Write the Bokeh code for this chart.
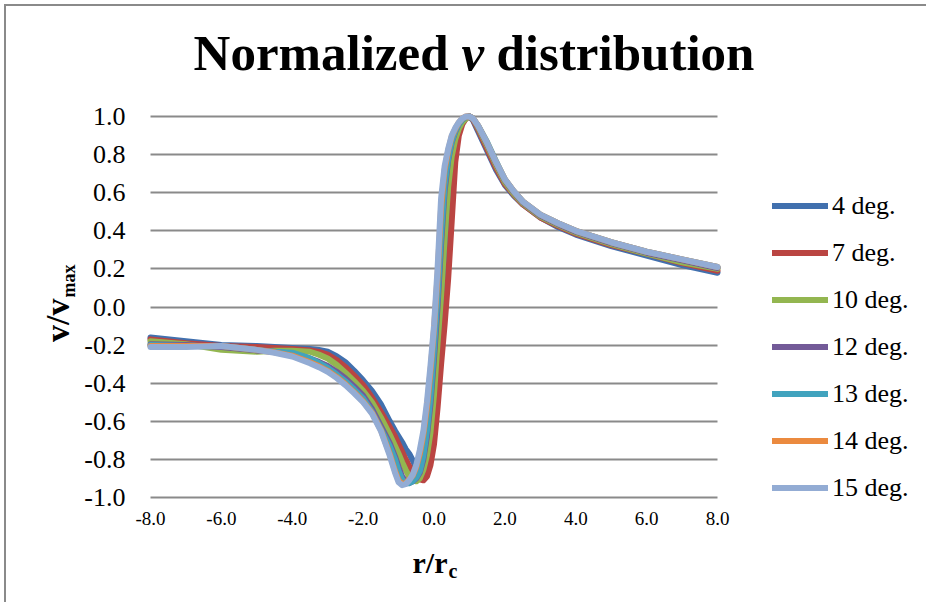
from math import pi
from bokeh.plotting import figure
from bokeh.models import Label, Legend, LegendItem, Range1d, FixedTicker, PrintfTickFormatter
from bokeh.embed import file_html
from bokeh.resources import INLINE

r = [-8, -7, -6, -5, -4.5, -4, -3.5, -3.25, -3, -2.75, -2.5, -2.25, -2, -1.75, -1.5, -1.25,
     -1.1, -1.0, -0.9, -0.8, -0.7, -0.6, -0.5, -0.4, -0.3, -0.2, -0.1, 0.0, 0.1, 0.2, 0.3,
     0.4, 0.5, 0.6, 0.7, 0.8, 0.9, 1.0, 1.1, 1.25, 1.5, 1.75, 2.0, 2.25, 2.5, 3.0, 3.5, 4.0,
     5.0, 6.0, 7.0, 8.0]

deg4 = [-0.16, -0.18, -0.20, -0.205, -0.21, -0.215, -0.22, -0.225, -0.235, -0.258, -0.29, -0.335,
        -0.385, -0.44, -0.51, -0.60, -0.65, -0.68, -0.71, -0.745, -0.77, -0.805, -0.845, -0.875,
        -0.88, -0.84, -0.75, -0.60, -0.37, -0.13, 0.12, 0.39, 0.63, 0.82, 0.92, 0.97, 0.99, 1.0,
        0.98, 0.92, 0.82, 0.72, 0.64, 0.585, 0.54, 0.47, 0.42, 0.38, 0.32, 0.27, 0.22, 0.18]
deg7 = [-0.17, -0.19, -0.205, -0.21, -0.215, -0.22, -0.228, -0.236, -0.25, -0.278, -0.315, -0.36,
        -0.41, -0.475, -0.55, -0.63, -0.68, -0.72, -0.76, -0.80, -0.835, -0.865, -0.89, -0.905,
        -0.91, -0.89, -0.83, -0.72, -0.53, -0.30, -0.09, 0.15, 0.45, 0.76, 0.90, 0.96, 0.99, 1.0,
        0.985, 0.93, 0.83, 0.73, 0.645, 0.59, 0.54, 0.47, 0.425, 0.385, 0.325, 0.28, 0.23, 0.19]
deg10 = [-0.18, -0.195, -0.225, -0.235, -0.23, -0.23, -0.235, -0.25, -0.27, -0.303, -0.345, -0.39,
         -0.44, -0.50, -0.58, -0.67, -0.73, -0.77, -0.815, -0.855, -0.89, -0.91, -0.915, -0.90,
         -0.855, -0.78, -0.66, -0.46, -0.19, 0.06, 0.36, 0.63, 0.79, 0.88, 0.935, 0.97, 0.99, 1.0,
         0.99, 0.94, 0.845, 0.745, 0.655, 0.595, 0.545, 0.475, 0.43, 0.39, 0.33, 0.28, 0.235, 0.20]
deg12 = [-0.195, -0.20, -0.21, -0.228, -0.235, -0.245, -0.27, -0.288, -0.31, -0.34, -0.375, -0.418,
         -0.465, -0.535, -0.625, -0.715, -0.785, -0.84, -0.89, -0.915, -0.925, -0.915, -0.90, -0.87,
         -0.80, -0.68, -0.51, -0.27, 0.0, 0.33, 0.61, 0.77, 0.865, 0.92, 0.96, 0.985, 0.997, 1.0,
         0.99, 0.945, 0.855, 0.755, 0.665, 0.603, 0.55, 0.48, 0.435, 0.395, 0.335, 0.285, 0.245, 0.205]
deg13 = [-0.20, -0.205, -0.205, -0.225, -0.235, -0.24, -0.27, -0.293, -0.32, -0.353, -0.39, -0.433,
         -0.48, -0.55, -0.64, -0.73, -0.80, -0.86, -0.905, -0.925, -0.925, -0.915, -0.895, -0.86,
         -0.78, -0.65, -0.47, -0.22, 0.05, 0.38, 0.64, 0.78, 0.87, 0.925, 0.96, 0.985, 0.998, 1.0,
         0.99, 0.95, 0.865, 0.765, 0.67, 0.608, 0.555, 0.485, 0.44, 0.40, 0.34, 0.29, 0.25, 0.21]
deg14 = [-0.205, -0.205, -0.205, -0.225, -0.238, -0.255, -0.29, -0.31, -0.335, -0.367, -0.405, -0.448,
         -0.495, -0.555, -0.645, -0.77, -0.86, -0.91, -0.93, -0.925, -0.905, -0.885, -0.84, -0.77,
         -0.67, -0.53, -0.34, -0.12, 0.16, 0.52, 0.72, 0.82, 0.895, 0.935, 0.968, 0.99, 1.0, 1.0,
         0.99, 0.95, 0.86, 0.76, 0.67, 0.608, 0.555, 0.485, 0.44, 0.40, 0.34, 0.29, 0.25, 0.21]
deg15 = [-0.21, -0.21, -0.205, -0.225, -0.24, -0.26, -0.295, -0.316, -0.34, -0.372, -0.41, -0.453,
         -0.50, -0.56, -0.65, -0.78, -0.87, -0.92, -0.935, -0.93, -0.91, -0.88, -0.83, -0.75,
         -0.65, -0.50, -0.31, -0.10, 0.20, 0.57, 0.74, 0.83, 0.90, 0.94, 0.97, 0.99, 1.0, 1.0,
         0.99, 0.95, 0.86, 0.76, 0.67, 0.608, 0.555, 0.485, 0.44, 0.40, 0.34, 0.29, 0.25, 0.21]

series_names = ["4 deg.", "7 deg.", "10 deg.", "12 deg.", "13 deg.", "14 deg.", "15 deg."]
series_values = [deg4, deg7, deg10, deg12, deg13, deg14, deg15]
colors = ["#4170AE", "#BA4542", "#93B650", "#735A98", "#41A3BE", "#EB8A3F", "#93ACD4"]

x_ticks = [-8, -6, -4, -2, 0, 2, 4, 6, 8]
y_ticks = [-1.0, -0.8, -0.6, -0.4, -0.2, 0.0, 0.2, 0.4, 0.6, 0.8, 1.0]
x_lo, x_hi = -8, 8
y_lo, y_hi = -1.0, 1.0

FONT = "Liberation Serif"

# canvas geometry (pixels): the whole canvas is the frame, axes are pinned inside it
W, H = 922, 598
PL, PR = 144, 711      # pixel columns of x_lo / x_hi
PT, PB = 110, 491      # pixel rows of y_hi / y_lo
sx = (PR - PL) / (x_hi - x_lo)
sy = (PB - PT) / (y_hi - y_lo)
xr = Range1d(x_lo - PL / sx, x_hi + (W - PR) / sx)
yr = Range1d(y_lo - (H - PB) / sy, y_hi + PT / sy)

p = figure(width=W, height=H, min_border=0, x_range=xr, y_range=yr,
           output_backend="svg", toolbar_location=None)
p.background_fill_color = "white"
p.border_fill_color = "white"
p.outline_line_color = None
p.styles = {"margin-left": "4px", "margin-top": "4px",
            "border-left": "2px solid #8a8a8a", "border-top": "2px solid #8a8a8a"}

p.xgrid.visible = False
grid = p.ygrid[0]
grid.ticker = FixedTicker(ticks=y_ticks)
grid.grid_line_color = "#8a8a8a"
grid.grid_line_width = 2
if "cross_bounds" in grid.properties():
    grid.cross_bounds = (x_lo, x_hi)
else:
    grid.visible = False
    p.segment(x0=[x_lo] * len(y_ticks), y0=y_ticks, x1=[x_hi] * len(y_ticks), y1=y_ticks,
              line_color="#8a8a8a", line_width=2)

p.xaxis.ticker = FixedTicker(ticks=x_ticks)
p.yaxis.ticker = FixedTicker(ticks=y_ticks)
p.xaxis.formatter = PrintfTickFormatter(format="%.1f")
p.yaxis.formatter = PrintfTickFormatter(format="%.1f")
p.xaxis.fixed_location = y_lo
p.yaxis.fixed_location = x_lo
p.xaxis.bounds = (x_lo, x_hi)
p.yaxis.bounds = (y_lo, y_hi)
for ax in (p.xaxis[0], p.yaxis[0]):
    ax.axis_line_color = None
    ax.major_tick_line_color = None
    ax.minor_tick_line_color = None
    ax.major_tick_out = 0
    ax.major_tick_in = 0
    ax.major_label_text_font = FONT
    ax.major_label_text_color = "black"
p.xaxis.major_label_text_font_size = "19px"
p.xaxis.major_label_standoff = 14
p.yaxis.major_label_text_font_size = "26px"
p.yaxis.major_label_standoff = 25

items = []
for name, vals, col in zip(series_names, series_values, colors):
    rend = p.line(r, vals, line_color=col, line_width=6, line_cap="round", line_join="round")
    items.append(LegendItem(label=name, renderers=[rend]))

legend = Legend(items=items, location=(766, 93), orientation="vertical",
                glyph_width=56, glyph_height=47, label_height=47, spacing=0,
                label_standoff=4, padding=0, margin=0,
                border_line_color=None, background_fill_alpha=0,
                label_text_font=FONT, label_text_font_size="26px", label_text_color="black")
p.add_layout(legend)


def text(x, y, s, size, style="bold", align="left", angle=0.0):
    p.add_layout(Label(x=x, y=y, x_units="screen", y_units="screen", text=s, angle=angle,
                       text_align=align, text_baseline="alphabetic", text_font=FONT,
                       text_font_size=size, text_font_style=style, text_color="black"))


# Title with italic v
text(442, 552, "Normalized", "51px", align="right")
text(455, 552, "v", "51px", style="bold italic")
text(490, 552, "distribution", "51px")

# x axis title r/r_c
text(441, 42, "r/r", "30px", align="right")
text(442, 34, "c", "20px")

# y axis title v/v_max (rotated)
text(51, 306, "v/v", "34px", align="right", angle=pi / 2)
text(62, 307, "max", "18px", angle=pi / 2)

open("out.html", "w").write(file_html(p, INLINE))
